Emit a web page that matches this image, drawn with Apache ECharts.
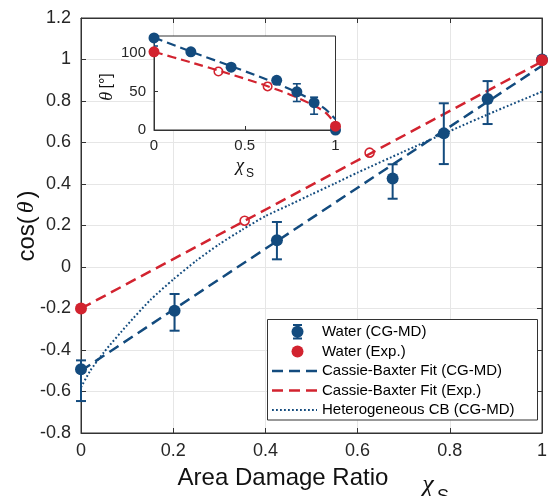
<!DOCTYPE html>
<html>
<head>
<meta charset="utf-8">
<script src="https://cdn.jsdelivr.net/npm/echarts@6/dist/echarts.min.js"></script>
<style>
html,body{margin:0;padding:0;background:#fff;}
#chart{width:550px;height:496px;}
</style>
</head>
<body>
<div id="chart"></div>
<script>
// ---- Main plot data (cos θ vs area damage ratio χS) ----
const waterX = [0, 0.203, 0.425, 0.676, 0.787, 0.882, 1];
const waterCos = [-0.493, -0.211, 0.129, 0.427, 0.644, 0.810, 1.0];
const waterCosLow = [-0.646, -0.307, 0.037, 0.329, 0.496, 0.689, 1.0];
const waterCosHigh = [-0.450, -0.130, 0.217, 0.495, 0.789, 0.896, 1.0];
const expX = [0, 1];
const expCos = [-0.2, 0.996];
const expOpenX = [0.355, 0.626];
const expOpenCos = [0.223, 0.551];
const cbFitMdX = [0, 1];
const cbFitMdCos = [-0.50, 0.97];
const cbFitExpX = [0, 1];
const cbFitExpCos = [-0.20, 0.99];
const hetX = [0, 0.02, 0.05, 0.10, 0.15, 0.20, 0.25, 0.30, 0.35, 0.40, 0.45, 0.50, 0.55, 0.60, 0.70, 0.80, 0.90, 1.0];
const hetCos = [-0.58, -0.50, -0.41, -0.28, -0.16, -0.06, 0.03, 0.11, 0.18, 0.245, 0.297, 0.35, 0.402, 0.455, 0.556, 0.655, 0.752, 0.845];

// ---- Inset data (θ in degrees) ----
const waterTheta = [119.5, 101.5, 81.5, 64.5, 49.5, 35.5, 0];
const waterThetaLow = [109, 99, 79, 62, 37, 20.5, 0];
const waterThetaHigh = [130, 104, 85, 67, 60, 42.6, 0];
const expTheta = [101.5, 5];
const expOpenTheta = [76, 56.6];
const fitThetaX = [0, 0.2, 0.4, 0.6, 0.7, 0.8, 0.9, 0.95, 1];
const cbFitMdTheta = [120, 102, 85, 67.5, 58, 47.5, 34.5, 26, 14];
const cbFitExpTheta = [101.5, 88, 74, 59, 50.5, 41, 29.5, 21.5, 8];

// ---- Axis ticks ----
const mainXTicks = {min: 0, max: 1, interval: 0.2};
const mainYTicks = {min: -0.8, max: 1.2, interval: 0.2};
const insetXTicks = {min: 0, max: 1, interval: 0.5};
const insetYTicks = {min: 0, max: 122, interval: 50};

const BLUE = '#134b7e';
const RED = '#d2232f';
const AX = '#333333';
const FONT = '"Liberation Sans", Arial, Helvetica, sans-serif';
const SERIF = '"Liberation Serif", "DejaVu Serif", serif';

const zip = (a, b) => a.map((v, i) => [v, b[i]]);

function errorBar(cap, lw) {
  return function (params, api) {
    const x = api.value(0), lo = api.value(1), hi = api.value(2);
    if (lo === hi) return null;
    const p1 = api.coord([x, lo]);
    const p2 = api.coord([x, hi]);
    const st = {stroke: BLUE, lineWidth: lw, fill: null};
    return {
      type: 'group',
      children: [
        {type: 'line', shape: {x1: p1[0], y1: p1[1], x2: p2[0], y2: p2[1]}, style: st},
        {type: 'line', shape: {x1: p1[0] - cap, y1: p1[1], x2: p1[0] + cap, y2: p1[1]}, style: st},
        {type: 'line', shape: {x1: p2[0] - cap, y1: p2[1], x2: p2[0] + cap, y2: p2[1]}, style: st}
      ]
    };
  };
}

const labelFmt1 = v => String(Math.round(v * 10) / 10);
const LZ = 100;

const chart = echarts.init(document.getElementById('chart'), null, {renderer: 'canvas'});

const option = {
  animation: false,
  backgroundColor: '#ffffff',
  grid: [
    {left: 81, top: 18, width: 467, height: 415, show: true, borderColor: AX, borderWidth: 1, backgroundColor: 'transparent'},
    {left: 154, top: 36, width: 181.5, height: 94, show: true, borderColor: AX, borderWidth: 1, backgroundColor: '#ffffff', z: 10}
  ],
  xAxis: [
    {type: 'value', gridIndex: 0, ...mainXTicks, position: 'bottom',
     axisLine: {show: true, onZero: false, lineStyle: {color: AX}},
     axisTick: {show: true, inside: true, length: 5, lineStyle: {color: AX}},
     axisLabel: {fontSize: 18, fontFamily: FONT, color: '#262626', margin: 9, formatter: labelFmt1},
     splitLine: {show: true, lineStyle: {color: '#e6e6e6', width: 1}}},
    {type: 'value', gridIndex: 0, ...mainXTicks, position: 'top',
     axisLine: {show: true, onZero: false, lineStyle: {color: AX}},
     axisTick: {show: true, inside: true, length: 5, lineStyle: {color: AX}},
     axisLabel: {show: false}, splitLine: {show: false}},
    {type: 'value', gridIndex: 1, ...insetXTicks, position: 'bottom', z: 12,
     axisLine: {show: true, onZero: false, lineStyle: {color: AX}},
     axisTick: {show: true, inside: true, length: 4, lineStyle: {color: AX}},
     axisLabel: {fontSize: 15, fontFamily: FONT, color: '#262626', margin: 8, formatter: v => String(v)},
     splitLine: {show: false}}
  ],
  yAxis: [
    {type: 'value', gridIndex: 0, ...mainYTicks, position: 'left',
     axisLine: {show: true, onZero: false, lineStyle: {color: AX}},
     axisTick: {show: true, inside: true, length: 5, lineStyle: {color: AX}},
     axisLabel: {fontSize: 18, fontFamily: FONT, color: '#262626', margin: 10, formatter: labelFmt1},
     splitLine: {show: true, lineStyle: {color: '#e6e6e6', width: 1}}},
    {type: 'value', gridIndex: 0, ...mainYTicks, position: 'right',
     axisLine: {show: true, onZero: false, lineStyle: {color: AX}},
     axisTick: {show: true, inside: true, length: 5, lineStyle: {color: AX}},
     axisLabel: {show: false}, splitLine: {show: false}},
    {type: 'value', gridIndex: 1, ...insetYTicks, position: 'left', z: 12,
     axisLine: {show: true, onZero: false, lineStyle: {color: AX}},
     axisTick: {show: true, inside: true, length: 4, lineStyle: {color: AX}},
     axisLabel: {fontSize: 15, fontFamily: FONT, color: '#262626', margin: 8, showMaxLabel: false,
                 formatter: v => (v % 50 === 0 ? String(v) : '')},
     splitLine: {show: false}}
  ],
  series: [
    // ---- main ----
    {name: 'Heterogeneous CB (CG-MD)', type: 'line', xAxisIndex: 0, yAxisIndex: 0, z: 2,
     data: zip(hetX, hetCos), symbol: 'none', smooth: 0.2,
     lineStyle: {color: BLUE, width: 2, type: [1.8, 2.2]}},
    {name: 'Cassie-Baxter Fit (CG-MD)', type: 'line', xAxisIndex: 0, yAxisIndex: 0, z: 2,
     data: zip(cbFitMdX, cbFitMdCos), symbol: 'none',
     lineStyle: {color: BLUE, width: 2.5, type: [11, 6]}},
    {name: 'Cassie-Baxter Fit (Exp.)', type: 'line', xAxisIndex: 0, yAxisIndex: 0, z: 2,
     data: zip(cbFitExpX, cbFitExpCos), symbol: 'none',
     lineStyle: {color: RED, width: 2.5, type: [11, 6]}},
    {name: 'errMain', type: 'custom', xAxisIndex: 0, yAxisIndex: 0, z: 3,
     data: waterX.map((x, i) => [x, waterCosLow[i], waterCosHigh[i]]),
     encode: {x: 0, y: [1, 2]}, renderItem: errorBar(5, 2)},
    {name: 'Water (CG-MD)', type: 'scatter', xAxisIndex: 0, yAxisIndex: 0, z: 4,
     data: zip(waterX, waterCos), symbol: 'circle', symbolSize: 12,
     itemStyle: {color: BLUE, opacity: 1}},
    {name: 'Water (Exp.)', type: 'scatter', xAxisIndex: 0, yAxisIndex: 0, z: 5,
     data: zip(expX, expCos), symbol: 'circle', symbolSize: 12,
     itemStyle: {color: RED, opacity: 1}},
    {name: 'Water (Exp.) open', type: 'scatter', xAxisIndex: 0, yAxisIndex: 0, z: 5,
     data: zip(expOpenX, expOpenCos), symbol: 'circle', symbolSize: 9,
     itemStyle: {color: 'transparent', borderColor: RED, borderWidth: 1.6, opacity: 1}},
    // ---- inset ----
    {name: 'inCbMd', type: 'line', xAxisIndex: 2, yAxisIndex: 2, z: 13,
     data: zip(fitThetaX, cbFitMdTheta), symbol: 'none', smooth: 0.2,
     lineStyle: {color: BLUE, width: 2.2, type: [9, 5]}},
    {name: 'inCbExp', type: 'line', xAxisIndex: 2, yAxisIndex: 2, z: 13,
     data: zip(fitThetaX, cbFitExpTheta), symbol: 'none', smooth: 0.2,
     lineStyle: {color: RED, width: 2.2, type: [9, 5]}},
    {name: 'inErr', type: 'custom', xAxisIndex: 2, yAxisIndex: 2, z: 14, clip: true,
     data: waterX.map((x, i) => [x, waterThetaLow[i], waterThetaHigh[i]]),
     encode: {x: 0, y: [1, 2]}, renderItem: errorBar(4, 1.6)},
    {name: 'inWater', type: 'scatter', xAxisIndex: 2, yAxisIndex: 2, z: 15, clip: false,
     data: zip(waterX, waterTheta), symbol: 'circle', symbolSize: 11,
     itemStyle: {color: BLUE, opacity: 1}},
    {name: 'inExp', type: 'scatter', xAxisIndex: 2, yAxisIndex: 2, z: 16, clip: false,
     data: zip(expX, expTheta), symbol: 'circle', symbolSize: 11,
     itemStyle: {color: RED, opacity: 1}},
    {name: 'inExpOpen', type: 'scatter', xAxisIndex: 2, yAxisIndex: 2, z: 16,
     data: zip(expOpenX, expOpenTheta), symbol: 'circle', symbolSize: 8.5,
     itemStyle: {color: 'transparent', borderColor: RED, borderWidth: 1.5, opacity: 1}}
  ],
  graphic: [
    // axis titles
    {type: 'text', x: 283, y: 478, z: LZ,
     style: {text: 'Area Damage Ratio', font: '24px ' + FONT, fill: '#111', align: 'center', verticalAlign: 'middle'}},
    {type: 'text', x: 428, y: 485, z: LZ,
     style: {text: 'χ', font: 'italic 26px ' + SERIF, fill: '#111', align: 'center', verticalAlign: 'middle'}},
    {type: 'text', x: 437, y: 497, z: LZ,
     style: {text: 'S', font: '18px ' + FONT, fill: '#111', align: 'left', verticalAlign: 'middle'}},
    {type: 'text', x: 27, y: 226, rotation: Math.PI / 2, z: LZ,
     style: {text: '{a|cos(}{b|θ}{a|)}', align: 'center', verticalAlign: 'middle',
             rich: {a: {font: '24px ' + FONT, fill: '#111'}, b: {font: 'italic 24px ' + SERIF, fill: '#111', padding: [0, 3, 0, 3]}}}},
    // inset titles
    {type: 'text', x: 107, y: 87, rotation: Math.PI / 2, z: LZ,
     style: {text: '{b|θ} {a|[°]}', align: 'center', verticalAlign: 'middle',
             rich: {a: {font: '16px ' + FONT, fill: '#111'}, b: {font: 'italic 18px ' + SERIF, fill: '#111'}}}},
    {type: 'text', x: 240, y: 166, z: LZ,
     style: {text: 'χ', font: 'italic 19px ' + SERIF, fill: '#111', align: 'center', verticalAlign: 'middle'}},
    {type: 'text', x: 246, y: 174, z: LZ,
     style: {text: 'S', font: '12px ' + FONT, fill: '#111', align: 'left', verticalAlign: 'middle'}},
    // legend
    {type: 'rect', z: LZ, shape: {x: 267.5, y: 319.5, width: 270, height: 100.5},
     style: {fill: '#ffffff', stroke: AX, lineWidth: 1}},
    {type: 'line', z: LZ + 1, shape: {x1: 297.5, y1: 325, x2: 297.5, y2: 338.5}, style: {stroke: BLUE, lineWidth: 2}},
    {type: 'line', z: LZ + 1, shape: {x1: 293, y1: 325, x2: 302, y2: 325}, style: {stroke: BLUE, lineWidth: 2}},
    {type: 'line', z: LZ + 1, shape: {x1: 293, y1: 338.5, x2: 302, y2: 338.5}, style: {stroke: BLUE, lineWidth: 2}},
    {type: 'circle', z: LZ + 2, shape: {cx: 297.5, cy: 331.7, r: 6}, style: {fill: BLUE}},
    {type: 'text', z: LZ + 1, x: 322, y: 331.7, style: {text: 'Water (CG-MD)', font: '15px ' + FONT, fill: '#000', verticalAlign: 'middle'}},
    {type: 'circle', z: LZ + 1, shape: {cx: 297.5, cy: 351.5, r: 6}, style: {fill: RED}},
    {type: 'text', z: LZ + 1, x: 322, y: 351.5, style: {text: 'Water (Exp.)', font: '15px ' + FONT, fill: '#000', verticalAlign: 'middle'}},
    {type: 'line', z: LZ + 1, shape: {x1: 272, y1: 371, x2: 317, y2: 371}, style: {stroke: BLUE, lineWidth: 2.5, lineDash: [11, 6]}},
    {type: 'text', z: LZ + 1, x: 322, y: 371, style: {text: 'Cassie-Baxter Fit (CG-MD)', font: '15px ' + FONT, fill: '#000', verticalAlign: 'middle'}},
    {type: 'line', z: LZ + 1, shape: {x1: 272, y1: 390.5, x2: 317, y2: 390.5}, style: {stroke: RED, lineWidth: 2.5, lineDash: [11, 6]}},
    {type: 'text', z: LZ + 1, x: 322, y: 390.5, style: {text: 'Cassie-Baxter Fit (Exp.)', font: '15px ' + FONT, fill: '#000', verticalAlign: 'middle'}},
    {type: 'line', z: LZ + 1, shape: {x1: 272, y1: 410, x2: 317, y2: 410}, style: {stroke: BLUE, lineWidth: 2, lineDash: [1.8, 2.2]}},
    {type: 'text', z: LZ + 1, x: 322, y: 410, style: {text: 'Heterogeneous CB (CG-MD)', font: '15px ' + FONT, fill: '#000', verticalAlign: 'middle'}}
  ]
};

chart.setOption(option);
</script>
</body>
</html>
